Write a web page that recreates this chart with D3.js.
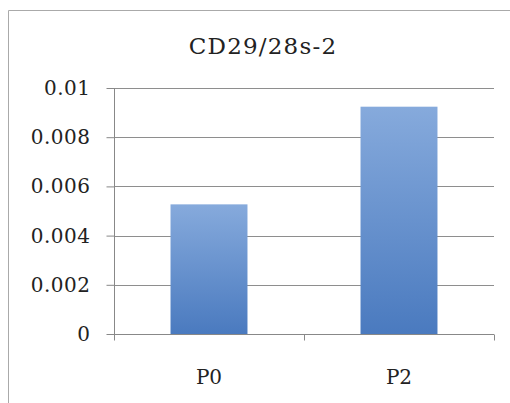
<!DOCTYPE html>
<html>
<head>
<meta charset="utf-8">
<script src="https://cdn.jsdelivr.net/npm/d3@7/dist/d3.min.js"></script>
<style>
  html, body { margin: 0; padding: 0; background: #fff; }
  svg { display: block; }
  text { font-family: "DejaVu Serif", "Liberation Serif", serif; }
</style>
</head>
<body>
<svg id="chart" width="510" height="403"></svg>
<script>
const categories = ["P0", "P2"];
const values = [0.00527, 0.00924];
const yTicks = [0, 0.002, 0.004, 0.006, 0.008, 0.01];
const yTickLabels = ["0", "0.002", "0.004", "0.006", "0.008", "0.01"];
const title = "CD29/28s-2";

const svg = d3.select("#chart");

// outer frame
svg.append("path")
  .attr("d", "M8.5,403 V10.5 H510")
  .attr("fill", "none")
  .attr("stroke", "#aaa")
  .attr("stroke-width", 1);

const x0 = 114, x1 = 494, yTop = 88, yBot = 334;

const x = d3.scaleBand().domain(categories).range([x0, x1]).paddingInner(0.595).paddingOuter(0.2975);
const y = d3.scaleLinear().domain([0, 0.01]).range([yBot, yTop]);

const defs = svg.append("defs");
const grad = defs.append("linearGradient").attr("id", "barGrad")
  .attr("x1", 0).attr("y1", 0).attr("x2", 0).attr("y2", 1);
grad.append("stop").attr("offset", "0%").attr("stop-color", "#86aadc");
grad.append("stop").attr("offset", "100%").attr("stop-color", "#4a7abf");

// gridlines
svg.append("g").selectAll("line").data(yTicks.slice(1)).join("line")
  .attr("x1", x0).attr("x2", x1)
  .attr("y1", d => Math.round(y(d)) + 0.5).attr("y2", d => Math.round(y(d)) + 0.5)
  .attr("stroke", "#8e8e8e").attr("stroke-width", 1);

// bars
svg.append("g").selectAll("rect").data(values).join("rect")
  .attr("x", (d, i) => x(categories[i]))
  .attr("width", x.bandwidth())
  .attr("y", d => y(d))
  .attr("height", d => y(0) - y(d))
  .attr("fill", "url(#barGrad)");

// y axis
const yAxis = d3.axisLeft(y).tickValues(yTicks)
  .tickFormat((d, i) => yTickLabels[i]).tickSize(8).tickPadding(16);
const gy = svg.append("g").attr("transform", `translate(${x0 + 0.5},0)`).call(yAxis);
gy.attr("font-family", null).attr("font-size", null);
gy.select(".domain").attr("stroke", "#888").attr("d", `M0,${yTop}V${yBot}`);
gy.selectAll(".tick line").attr("stroke", "#888");
gy.selectAll(".tick text").attr("font-size", 20).attr("letter-spacing", 0.5).attr("fill", "#222");

// x axis
const gx = svg.append("g").attr("transform", `translate(0,${yBot + 0.5})`);
gx.append("line").attr("x1", x0).attr("x2", x1).attr("stroke", "#888");
const bounds = [x0, (x0 + x1) / 2, x1];
gx.selectAll("line.tk").data(bounds).join("line").attr("class", "tk")
  .attr("x1", d => Math.round(d) + 0.5).attr("x2", d => Math.round(d) + 0.5)
  .attr("y1", 0).attr("y2", 6).attr("stroke", "#888");
gx.selectAll("text").data(categories).join("text")
  .attr("x", d => x(d) + x.bandwidth() / 2)
  .attr("y", 49)
  .attr("text-anchor", "middle")
  .attr("font-size", 20).attr("fill", "#222")
  .text(d => d);

// title
svg.append("text")
  .attr("x", 263).attr("y", 54)
  .attr("text-anchor", "middle")
  .attr("font-size", 23).attr("letter-spacing", 1.2).attr("fill", "#222")
  .text(title);
</script>
</body>
</html>
